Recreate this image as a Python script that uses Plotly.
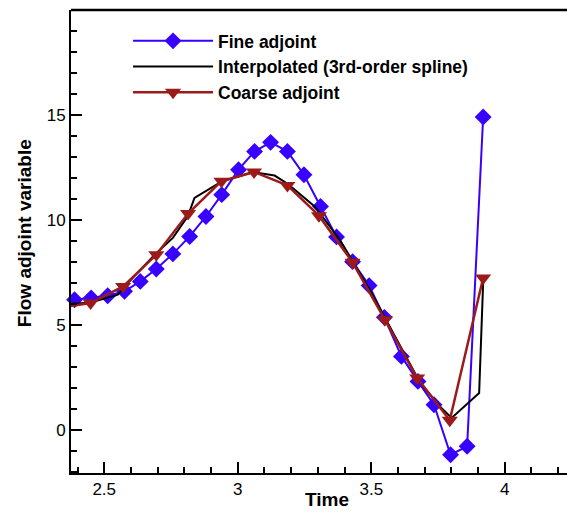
import plotly.graph_objects as go

# ---- data ----
fine_t = [2.389, 2.451, 2.513, 2.576, 2.635, 2.695, 2.757, 2.820, 2.881, 2.940,
          3.003, 3.063, 3.123, 3.186, 3.248, 3.310, 3.370, 3.430, 3.492, 3.549,
          3.613, 3.675, 3.735, 3.797, 3.859, 3.919]
fine_v = [6.19, 6.27, 6.38, 6.59, 7.06, 7.65, 8.37, 9.20, 10.15, 11.19,
          12.38, 13.25, 13.68, 13.25, 12.14, 10.63, 9.18, 8.00, 6.86, 5.35,
          3.49, 2.30, 1.19, -1.19, -0.79, 14.89]

coarse_t = [2.325, 2.449, 2.571, 2.695, 2.814, 2.939, 3.061, 3.186, 3.304,
            3.430, 3.551, 3.672, 3.794, 3.919]
coarse_v = [5.80, 6.03, 6.82, 8.33, 10.29, 11.83, 12.27, 11.63, 10.19,
            7.97, 5.24, 2.46, 0.45, 7.22]

interp_t = [2.372, 2.449, 2.551, 2.575, 2.689, 2.757, 2.813, 2.838, 2.939,
            3.057, 3.138, 3.188, 3.288, 3.382, 3.494, 3.551, 3.675, 3.694,
            3.757, 3.801, 3.904, 3.919]
interp_v = [6.00, 6.05, 6.43, 6.80, 8.33, 9.13, 10.16, 11.03, 11.81,
            12.27, 12.10, 11.70, 10.63, 9.05, 6.67, 5.33, 2.43, 2.06,
            1.11, 0.56, 1.75, 7.01]

x_ticks = [2.5, 3, 3.5, 4]
x_labels = ["2.5", "3", "3.5", "4"]
y_ticks = [0, 5, 10, 15]
y_labels = ["0", "5", "10", "15"]

BLUE = "#3800ff"
RED = "#9b1a1a"
FONT = "Liberation Sans"

fig = go.Figure()
fig.add_trace(go.Scatter(
    x=fine_t, y=fine_v, mode="lines+markers", name="Fine adjoint",
    line=dict(color=BLUE, width=2),
    marker=dict(symbol="diamond", size=13, color=BLUE),
    cliponaxis=False))
fig.add_trace(go.Scatter(
    x=interp_t, y=interp_v, mode="lines",
    name="Interpolated (3rd-order spline)",
    line=dict(color="black", width=2)))
fig.add_trace(go.Scatter(
    x=coarse_t, y=coarse_v, mode="lines+markers", name="Coarse adjoint",
    line=dict(color=RED, width=2.5),
    marker=dict(symbol="triangle-down", size=14, color=RED)))

axis_common = dict(
    showline=True, linecolor="black", linewidth=2, mirror=False,
    ticks="inside", ticklen=11, tickwidth=1.5, tickcolor="black",
    showgrid=False, zeroline=False,
    tickfont=dict(family=FONT, size=17, color="black"),
)

fig.update_layout(
    width=567, height=512,
    margin=dict(l=71, r=0, t=10, b=39),
    paper_bgcolor="white", plot_bgcolor="white",
    showlegend=True,
    legend=dict(x=0.115, y=0.972, xanchor="left", yanchor="top",
                bgcolor="rgba(0,0,0,0)", borderwidth=0,
                itemwidth=80,
                font=dict(family=FONT, size=17.5, color="black", weight="bold")),
    xaxis=dict(range=[2.3756, 4.233], tickvals=x_ticks, ticktext=x_labels,
               ticklabelstandoff=0,
               minor=dict(dtick=0.1, tick0=2.5, ticks="inside", ticklen=6,
                          tickwidth=1.5, tickcolor="black"),
               **axis_common),
    yaxis=dict(range=[-2.06, 19.98], tickvals=y_ticks, ticktext=y_labels,
               minor=dict(dtick=1, tick0=0, ticks="inside", ticklen=6,
                          tickwidth=1.5, tickcolor="black"),
               **axis_common),
    shapes=[dict(type="line", xref="paper", yref="paper", x0=0, x1=1,
                 y0=1, y1=1, line=dict(color="black", width=2.5))],
    annotations=[
        dict(text="Time", xref="paper", yref="paper", x=0.517, y=0,
             yshift=-14, xanchor="center", yanchor="top", showarrow=False,
             font=dict(family=FONT, size=19, color="black", weight="bold")),
        dict(text="Flow adjoint variable", xref="paper", yref="paper",
             x=0, xshift=-47, y=0.518, textangle=-90, xanchor="center",
             yanchor="middle", showarrow=False,
             font=dict(family=FONT, size=19, color="black", weight="bold")),
    ],
)

fig.write_html("out.html")
